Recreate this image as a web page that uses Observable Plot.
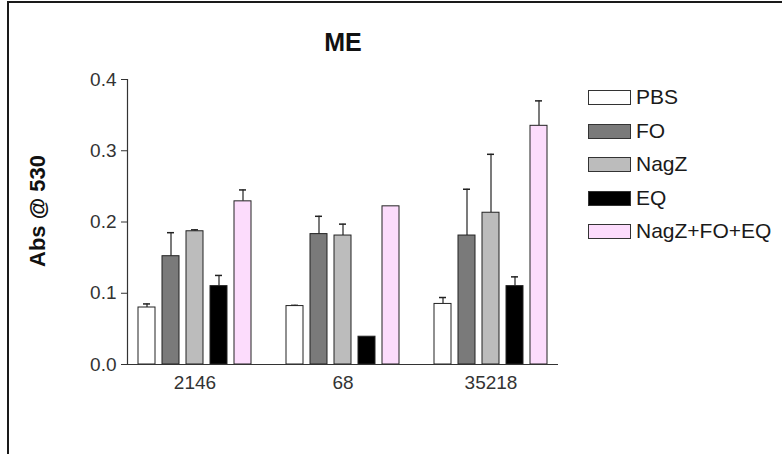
<!DOCTYPE html>
<html>
<head>
<meta charset="utf-8">
<script src="https://cdn.jsdelivr.net/npm/d3@7"></script>
<script src="https://cdn.jsdelivr.net/npm/@observablehq/plot@0.6"></script>
<style>
  html, body { margin: 0; padding: 0; background: #fff; }
  #wrap { position: relative; width: 782px; height: 454px; overflow: hidden; font-family: "Liberation Sans", Arial, sans-serif; }
  #wrap svg { position: absolute; left: 0; top: 0; }
  #border { position: absolute; left: 7px; top: 1px; right: -10px; bottom: -10px; border-left: 2px solid #1a1a1a; border-top: 2px solid #1a1a1a; }
  #legend { position: absolute; left: 588px; top: 0; }
  .row { position: absolute; left: 0; white-space: nowrap; height: 24px; }
  .sw { position: absolute; left: 0; top: 5px; width: 41px; height: 13px; border: 1px solid #333; }
  .lab { position: absolute; left: 48px; top: 0; font-size: 21px; line-height: 24px; color: #1a1a1a; }
</style>
</head>
<body>
<div id="wrap"><div id="border"></div><div id="legend"></div></div>
<script>
const groups = ["2146", "68", "35218"];
const series = ["PBS", "FO", "NagZ", "EQ", "NagZ+FO+EQ"];
const colors = ["#ffffff", "#7a7a7a", "#bcbcbc", "#000000", "#fcdcfc"];
const means2146 = [0.080, 0.152, 0.187, 0.110, 0.229];
const errs2146  = [0.005, 0.033, 0.002, 0.015, 0.016];
const means68   = [0.082, 0.183, 0.181, 0.039, 0.222];
const errs68    = [0.001, 0.025, 0.016, 0, 0];
const means35218 = [0.085, 0.181, 0.213, 0.110, 0.335];
const errs35218  = [0.009, 0.065, 0.082, 0.013, 0.035];
const yTicks = [0, 0.1, 0.2, 0.3, 0.4];
const title = "ME";
const yLabel = "Abs @ 530";

const meansByGroup = [means2146, means68, means35218];
const errsByGroup = [errs2146, errs68, errs35218];
const data = [];
groups.forEach((g, i) => series.forEach((s, j) => data.push({
  group: g, series: s, value: meansByGroup[i][j], err: errsByGroup[i][j]
})));
const withErr = data.filter(d => d.err > 0);

const W = 782, H = 454;
const margins = { marginLeft: 127, marginRight: 224, marginTop: 79, marginBottom: 90 };
const fontStyle = { fontFamily: "'Liberation Sans', Arial, sans-serif", fontSize: "19px", color: "#333", background: "transparent" };

const main = Plot.plot({
  width: W, height: H, ...margins,
  style: fontStyle,
  fx: { domain: groups, paddingInner: 0.221, paddingOuter: 0.0665, axis: null, label: null },
  x: { domain: series, paddingInner: 0.294, paddingOuter: 0, axis: null },
  y: { domain: [0, 0.4], axis: null },
  color: { domain: series, range: colors },
  marks: [
    Plot.axisFx({ anchor: "bottom", tickSize: 0, tickPadding: 11, fontSize: 19, label: null, fill: "#333" }),
    Plot.ruleX(withErr, { fx: "group", x: "series", y1: "value", y2: d => d.value + d.err, stroke: "#222", strokeWidth: 1.2 }),
    Plot.tickY(withErr, { fx: "group", x: "series", y: d => d.value + d.err, stroke: "#222", strokeWidth: 1.5, insetLeft: 5, insetRight: 5 }),
    Plot.barY(data, { fx: "group", x: "series", y: "value", fill: "series", stroke: "#222", strokeWidth: 1 })
  ]
});

const overlay = Plot.plot({
  width: W, height: H, ...margins,
  style: fontStyle,
  x: { domain: [0, 1], axis: null },
  y: { domain: [0, 0.4], axis: null },
  marks: [
    Plot.axisY({ ticks: yTicks, tickFormat: d3.format(".1f"), tickSize: 6, tickPadding: 5, fontSize: 19, label: null, fill: "#333", stroke: "#333" }),
    Plot.ruleX([0], { stroke: "#333", strokeWidth: 1.2 }),
    Plot.ruleY([0], { stroke: "#333", strokeWidth: 1.2 }),
    Plot.text([yLabel], { frameAnchor: "left", textAnchor: "middle", rotate: -90, dx: -90, dy: -11, fontSize: 22, fontWeight: "bold", fill: "#111" }),
    Plot.text([title], { frameAnchor: "top", dy: -46, fontSize: 25, fontWeight: "bold", fill: "#111" })
  ]
});

const wrap = document.getElementById("wrap");
wrap.appendChild(main);
wrap.appendChild(overlay);

const legend = document.getElementById("legend");
series.forEach((s, i) => {
  const row = document.createElement("div");
  row.className = "row";
  row.style.top = (85 + i * 33.5) + "px";
  const sw = document.createElement("div");
  sw.className = "sw";
  sw.style.background = colors[i];
  const lab = document.createElement("div");
  lab.className = "lab";
  lab.textContent = s;
  row.appendChild(sw);
  row.appendChild(lab);
  legend.appendChild(row);
});
</script>
</body>
</html>
